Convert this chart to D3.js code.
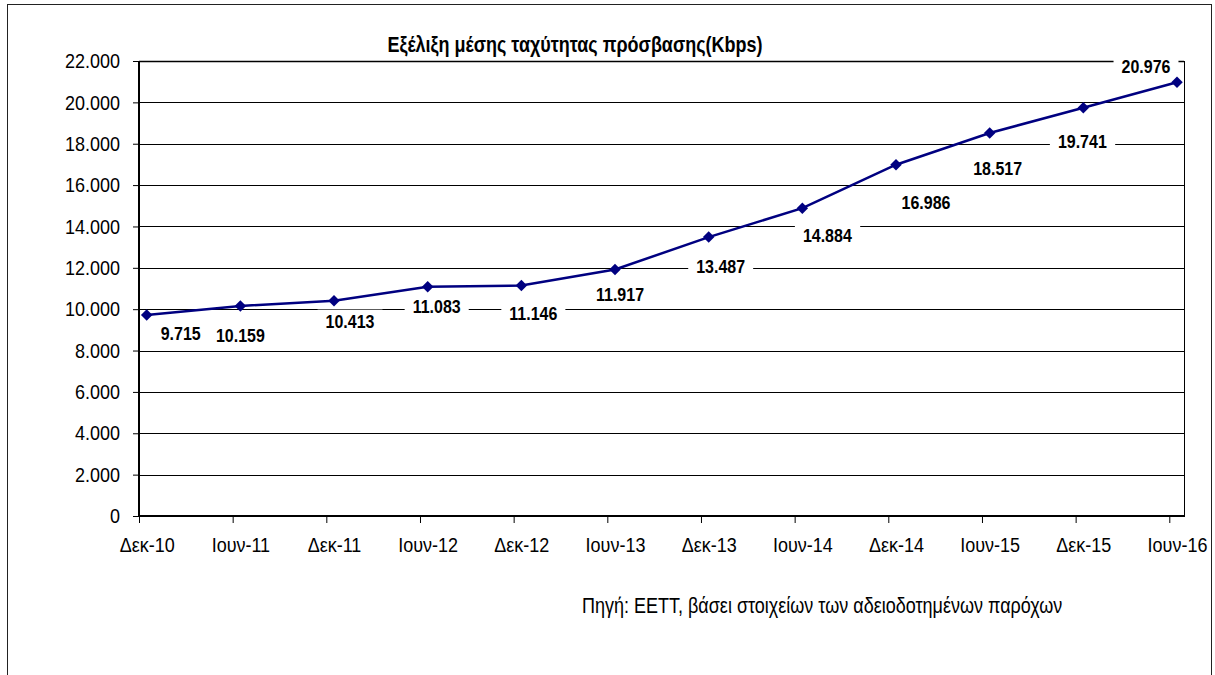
<!DOCTYPE html>
<html lang='el'>
  <head>
    <meta charset='utf-8'>
    <title>Μέση ταχύτητα πρόσβασης</title>
    <script type='text/javascript' src='https://cdn.jsdelivr.net/npm/d3@7'></script>
    <style type='text/css'>
      body { margin: 0; background: white; }
      svg { font-family: 'Liberation Sans', Arial, sans-serif; display: block; }
      .tick text { font-size: 18px; fill: #000; }
      .lbl { font-size: 16px; font-weight: bold; }
    </style>
  </head>
  <body>
    <div id='chart'></div>
    <script type='text/javascript'>

    // Data
    var periods = ['Δεκ-10', 'Ιουν-11', 'Δεκ-11', 'Ιουν-12', 'Δεκ-12', 'Ιουν-13',
                   'Δεκ-13', 'Ιουν-14', 'Δεκ-14', 'Ιουν-15', 'Δεκ-15', 'Ιουν-16'];
    var speeds = [9715, 10159, 10413, 11083, 11146, 11917, 13487, 14884, 16986, 18517, 19741, 20976];
    var yTicks = [0, 2000, 4000, 6000, 8000, 10000, 12000, 14000, 16000, 18000, 20000, 22000];
    var titleText = 'Εξέλιξη μέσης ταχύτητας πρόσβασης(Kbps)';
    var sourceText = 'Πηγή: ΕΕΤΤ, βάσει στοιχείων των αδειοδοτημένων παρόχων';

    // label nudges (dx, dy from the marker), as placed in the original
    var labelNudge = [[34, 18], [0, 29], [16, 21], [9, 20], [12, 28], [5, 25],
                      [12, 29], [25, 27], [30, 38], [8, 35], [-1, 34], [-31, -16]];

    var W = 1215, H = 675;
    var plot = { left: 139, right: 1184, top: 61, bottom: 516 };
    var stretch = 'scale(1,1.15)'; // original text is a bit taller than wide

    var loc = d3.formatLocale({ decimal: ',', thousands: '.', grouping: [3], currency: ['', '€'] });
    var fmt = loc.format(',.0f');

    var svg = d3.select('#chart').append('svg')
        .attr('width', W)
        .attr('height', H);

    // outer frame
    svg.append('rect')
      .attr('x', 7.5).attr('y', 4.5)
      .attr('width', 1204).attr('height', 700)
      .attr('fill', 'white')
      .attr('stroke', '#222')
      .attr('stroke-width', 1);

    // Scales
    var x = d3.scaleLinear()
      .domain([0, periods.length - 1])
      .range([146.7, 1177]);

    var y = d3.scaleLinear()
      .domain([0, 22000])
      .range([plot.bottom, plot.top]);

    // gridlines
    svg.append('g').selectAll('line')
      .data(yTicks.slice(1))
      .enter().append('line')
      .attr('x1', plot.left).attr('x2', plot.right)
      .attr('y1', function(d) { return Math.round(y(d)) + 0.5; })
      .attr('y2', function(d) { return Math.round(y(d)) + 0.5; })
      .attr('stroke', '#000')
      .attr('stroke-width', function(d) { return d === 22000 ? 1.5 : 1; });

    // right edge of plot area
    svg.append('line')
      .attr('x1', plot.right + 0.5).attr('x2', plot.right + 0.5)
      .attr('y1', plot.top).attr('y2', plot.bottom)
      .attr('stroke', '#000');

    // y axis
    var yAxis = d3.axisLeft(y)
      .tickValues(yTicks)
      .tickSize(6)
      .tickPadding(13)
      .tickFormat(fmt);

    var gy = svg.append('g')
      .attr('transform', 'translate(' + plot.left + ',0)')
      .call(yAxis);
    gy.select('.domain').remove();
    gy.selectAll('.tick line').attr('stroke', '#000');
    gy.selectAll('.tick text').attr('transform', stretch);

    svg.append('line')
      .attr('x1', plot.left).attr('x2', plot.left)
      .attr('y1', plot.top).attr('y2', plot.bottom + 1)
      .attr('stroke', '#000').attr('stroke-width', 2);

    // x axis: labels under the points, tick marks a little to the left
    var xAxis = d3.axisBottom(x)
      .tickValues(d3.range(periods.length))
      .tickSize(0)
      .tickFormat(function(i) { return periods[i]; });

    var gx = svg.append('g')
      .attr('transform', 'translate(0,' + plot.bottom + ')')
      .call(xAxis);
    gx.select('.domain').remove();
    gx.selectAll('.tick text')
      .attr('y', 0).attr('dy', 0)
      .attr('transform', 'translate(0,35.5) ' + stretch);

    var xTickMarks = d3.axisBottom(x)
      .tickValues(d3.range(periods.length))
      .tickSize(7)
      .tickFormat('');

    var gt = svg.append('g')
      .attr('transform', 'translate(-7.7,' + plot.bottom + ')')
      .call(xTickMarks);
    gt.select('.domain').remove();
    gt.selectAll('.tick line').attr('stroke', '#000');

    svg.append('line')
      .attr('x1', plot.left - 1).attr('x2', plot.right + 1)
      .attr('y1', plot.bottom).attr('y2', plot.bottom)
      .attr('stroke', '#000').attr('stroke-width', 2);

    // data labels with white boxes
    var labels = svg.append('g').selectAll('g')
      .data(speeds)
      .enter().append('g')
      .attr('transform', function(d, i) {
        return 'translate(' + (x(i) + labelNudge[i][0]) + ',' + (y(d) + labelNudge[i][1]) + ')';
      });

    labels.append('text')
      .attr('class', 'lbl')
      .attr('text-anchor', 'middle')
      .attr('dy', '0.36em')
      .attr('transform', stretch)
      .text(function(d) { return fmt(d); });

    labels.insert('rect', 'text')
      .each(function() {
        var bb = this.parentNode.querySelector('text').getBBox();
        d3.select(this)
          .attr('x', bb.x - 8).attr('width', bb.width + 16)
          .attr('y', -12).attr('height', 24);
      })
      .attr('fill', 'white');

    // series
    var line = d3.line()
      .x(function(d, i) { return x(i); })
      .y(function(d) { return y(d); });

    svg.append('path')
      .datum(speeds)
      .attr('d', line)
      .attr('fill', 'none')
      .attr('stroke', '#000080')
      .attr('stroke-width', 2.5);

    svg.append('g').selectAll('path')
      .data(speeds)
      .enter().append('path')
      .attr('d', d3.symbol().type(d3.symbolSquare).size(66))
      .attr('transform', function(d, i) {
        return 'translate(' + x(i) + ',' + y(d) + ') rotate(45)';
      })
      .attr('fill', '#000080');

    // title and source
    svg.append('text')
      .attr('transform', 'translate(575,52) scale(1,1.25)')
      .attr('text-anchor', 'middle')
      .style('font-size', '18px')
      .style('font-weight', 'bold')
      .text(titleText);

    svg.append('text')
      .attr('transform', 'translate(582,613) scale(1,1.2)')
      .style('font-size', '18px')
      .text(sourceText);

    </script>
  </body>
</html>
